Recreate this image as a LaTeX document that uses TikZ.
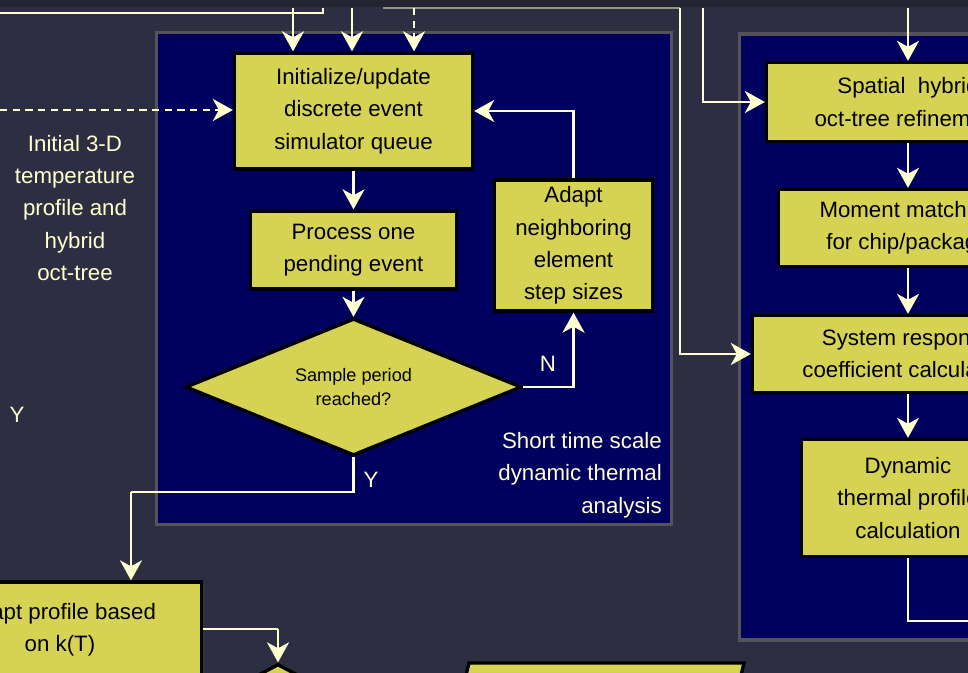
\documentclass[tikz,border=0pt]{standalone}
\usepackage{fontspec}
\setmainfont{Liberation Sans}
\usetikzlibrary{arrows.meta,shapes.geometric}
\definecolor{bg}{RGB}{46,46,66}
\definecolor{topband}{RGB}{36,36,50}
\definecolor{navy}{RGB}{0,0,94}
\definecolor{pborder}{RGB}{84,84,88}
\definecolor{ybox}{RGB}{214,211,84}
\definecolor{cream}{RGB}{255,255,208}
\definecolor{thingray}{RGB}{150,150,135}
\tikzset{
  bx/.style 2 args={draw=black, fill=ybox, line width=2.5pt, inner sep=0pt,
    minimum width=#1*0.75pt, minimum height=#2*0.75pt, align=center,
    font=\fontsize{16.7}{24.2}\selectfont, text=black},
  panel/.style={draw=pborder, fill=navy, line width=2.3pt},
  conn/.style={draw=cream, line width=2.2pt, -{Stealth[length=15pt,width=16.5pt,inset=4.5pt]}},
  plainline/.style={draw=cream, line width=2.2pt},
  dashconn/.style={conn, dash pattern=on 5.5pt off 4pt},
  lbl/.style={text=cream, font=\fontsize{16.7}{24.2}\selectfont, inner sep=0pt},
}
\begin{document}
\begin{tikzpicture}[x=0.75pt,y=-0.75pt]
\useasboundingbox (0,0) rectangle (968,673);
\clip (0,0) rectangle (968,673);
\fill[bg] (0,0) rectangle (968,673);

% panels
\draw[panel] (156.5,32.5) rectangle (671.5,524.5);
\draw[panel] (739.5,34) rectangle (1000,640);

% boxes
\node[bx={238}{116}] (init) at (353.5,111) {Initialize/update\\discrete event\\simulator queue};
\node[bx={206}{78}] (proc) at (353.5,250) {Process one\\pending event};
\node[bx={158}{131}] (adapt) at (573.5,245.5) {Adapt\\neighboring\\element\\step sizes};
\node[draw=black, fill=ybox, line width=2.5pt, shape=diamond, shape aspect=2.4, inner sep=0pt,
      minimum width=336*0.75pt, minimum height=137*0.75pt, align=center,
      font=\fontsize{13.6}{18}\selectfont] (dia) at (353.5,387) {Sample period\\reached?};
\node[bx={283}{79}] (spatial) at (908,102) {Spatial\ \ hybrid\\oct-tree refinement};
\node[bx={259}{77}] (moment) at (908,228) {Moment matching\\for chip/package};
\node[bx={311}{77}] (sys) at (908,354) {System response\\coefficient calculation};
\node[bx={213}{117}] (dyn) at (908,498) {Dynamic\\thermal profile\\calculation};
\node[bx={283}{95}] (adaptp) at (60,629.5) {Adapt profile based\\on k(T)};
\node[draw=black, fill=ybox, line width=2.5pt, shape=diamond, inner sep=0pt,
      minimum width=300*0.75pt, minimum height=160*0.75pt] (dia2) at (278,744) {};
\filldraw[draw=black, fill=ybox, line width=2.5pt] (469,663) -- (744,663) -- (730,720) -- (455,720) -- cycle;

% labels
\node[lbl, align=center] (initlbl) at (75,208) {Initial 3-D\\temperature\\profile and\\hybrid\\oct-tree};
\node[lbl, align=right, anchor=east] (stlbl) at (662,475) {Short time scale\\dynamic thermal\\analysis};
\node[lbl] (nlbl) at (548,364) {N};
\node[lbl] (ylbl) at (371,480) {Y};
\node[lbl] (ylbl2) at (17,415) {Y};

% top band
\fill[topband] (0,0) rectangle (968,7);

% free ends
\coordinate (t323) at (323,8);
\coordinate (l13) at (0,13);
\coordinate (t293) at (293,8);
\coordinate (t352) at (352,8);
\coordinate (t414) at (414,8);
\coordinate (g1) at (383,8);
\coordinate (g2) at (680,8);
\coordinate (t680) at (680,8);
\coordinate (t703) at (703,8);
\coordinate (t908) at (908,8);
\coordinate (l110) at (0,110);
\coordinate (r621) at (975,621);
\coordinate (yturn) at (131,492);
\coordinate (pturn) at (278,629);

% connectors
\draw[thingray, line width=1pt] (g1) -- (g2);
\draw[plainline] (t323) |- (l13);
\draw[conn] (t293) -- (t293 |- init.north);
\draw[conn] (t352) -- (t352 |- init.north);
\draw[dashconn] (t414) -- (t414 |- init.north);
\draw[conn] (t680) |- (sys.west);
\draw[conn] (t703) |- (spatial.west);
\draw[conn] (t908) -- (spatial.north);
\draw[conn] (spatial) -- (moment);
\draw[conn] (moment) -- (sys);
\draw[conn] (sys) -- (dyn);
\draw[plainline] (dyn.south) |- (r621);
\draw[dashconn] (l110) -- (l110 -| init.west);
\draw[conn] (init) -- (proc);
\draw[conn] (proc) -- (dia);
\draw[conn] (dia.east) -| (adapt.south);
\draw[conn] (adapt.north) |- (init.east);
\draw[plainline] (dia.south) |- (yturn);
\draw[conn] (yturn) -- (yturn |- adaptp.north);
\draw[plainline] (adaptp.east |- pturn) -- (pturn);
\draw[conn] (pturn) -- (dia2.north);
\end{tikzpicture}
\end{document}
